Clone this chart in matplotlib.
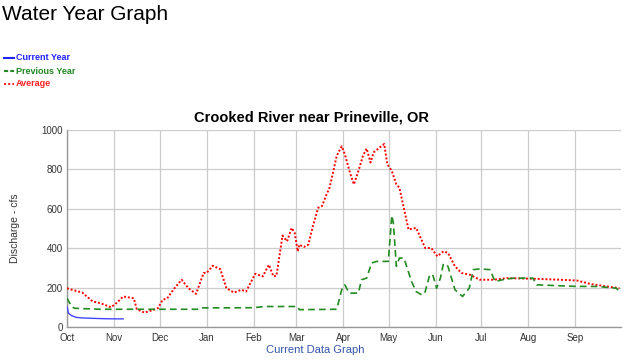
import matplotlib
matplotlib.use("Agg")
import matplotlib.pyplot as plt

plt.rcParams['font.family'] = ['Liberation Sans', 'DejaVu Sans']

# Day of water year (0 = Oct 1)
month_labels = ['Oct', 'Nov', 'Dec', 'Jan', 'Feb', 'Mar', 'Apr', 'May', 'Jun', 'Jul', 'Aug', 'Sep']
month_starts = [0, 31, 61, 92, 123, 151, 182, 212, 243, 273, 304, 335]

cur_days = [0, 1, 3, 6, 10, 17, 25, 37]
cur_vals = [105, 70, 58, 49, 46, 44, 42, 41]

prev_days = [0, 3, 5, 22, 44, 86, 87, 123, 130, 152, 153, 177.7, 181, 183, 186, 192, 194, 197.4,
             200.7, 204, 211.7, 214, 215, 217, 219, 222, 227, 230, 233.7, 235.7, 239, 241, 243.5,
             246, 248, 251, 255.6, 260.6, 265, 267.7, 272, 278.7, 282, 287, 294, 307, 309.4,
             336, 349, 362, 364.3]
prev_vals = [146, 104, 95, 90, 90, 90, 97, 98, 104, 104, 88, 90, 189, 214, 172, 172, 240, 248,
             325, 333, 333, 566, 529, 308, 350, 350, 231, 180, 163, 172, 265, 265, 197,
             248, 321, 308, 189, 155, 197, 291, 295, 291, 231, 240, 248, 248, 214,
             206, 206, 197, 175]

avg_days = [0, 1, 10, 17, 22, 29, 33, 37, 44, 46, 51, 57, 60, 63, 66, 70, 75.5, 80, 85, 90, 92,
            96, 101, 105, 110, 115, 118, 124, 129, 133, 136, 138, 142, 145, 148, 150, 152, 153,
            156, 159, 162, 165.5, 168, 171, 173, 175.5, 177.7, 181, 183, 186.4, 189, 192, 195,
            197.4, 200, 202, 206, 209, 211, 214, 217, 219, 225, 230, 236, 240, 244, 248, 251,
            255.6, 260, 265.5, 272, 281, 290, 307, 325, 336, 344.5, 355.5, 364]
avg_vals = [197, 194, 175, 129, 121, 100, 124, 155, 146, 90, 73, 87, 96, 138, 145, 189, 240, 197,
            168, 274, 274, 311, 294, 197, 175, 189, 180, 270, 257, 316, 257, 260, 464, 435, 503,
            478, 384, 418, 406, 418, 512, 605, 614, 673, 707, 792, 869, 917, 878, 784, 724, 792,
            869, 906, 835, 886, 911, 929, 827, 792, 724, 707, 495, 503, 401, 401, 359, 384, 376,
            308, 274, 265, 240, 240, 248, 245, 240, 236, 219, 206, 197]

fig = plt.figure(figsize=(6.24, 3.61), dpi=100)
ax = fig.add_axes([67 / 624, 1 - 327 / 361, 554 / 624, 197 / 361])

ax.plot(avg_days, avg_vals, color='#ff0000', linestyle=(0, (1, 1)), linewidth=1.4, zorder=3)
ax.plot(prev_days, prev_vals, color='#228B22', linestyle=(0, (4, 2.5)), linewidth=1.2, zorder=4)
ax.plot(cur_days, cur_vals, color='#4444ff', linestyle='-', linewidth=1.0, zorder=5)

ax.set_xlim(0, 365)
ax.set_ylim(0, 1000)
ax.set_xticks(month_starts)
ax.set_xticklabels(month_labels)
ax.set_yticks([0, 200, 400, 600, 800, 1000])
ax.tick_params(axis='both', length=0, labelsize=7, colors='#333333')
ax.tick_params(axis='y', pad=3)
ax.tick_params(axis='x', pad=4)
ax.grid(True, color='#cccccc', linewidth=0.9)
ax.set_axisbelow(True)
for s in ['top', 'right']:
    ax.spines[s].set_visible(False)
for s in ['left', 'bottom']:
    ax.spines[s].set_color('#999999')
    ax.spines[s].set_linewidth(1.0)

fig.text(311 / 624, 1 - 118 / 361, 'Crooked River near Prineville, OR', fontsize=10.5,
         fontweight='bold', ha='center', va='center')
ax.set_ylabel('Discharge - cfs', fontsize=7.5, color='#333333')
ax.yaxis.set_label_coords(-47 / 554, 0.5)
ax.set_xlabel('Current Data Graph', fontsize=8, color='#3355aa')
ax.xaxis.set_label_coords((315 - 67) / 554, -(350 - 327) / 197)
ax.xaxis.label.set_va('center')

fig.text(2 / 624, 1 - 14 / 361, 'Water Year Graph', fontsize=15, va='center', ha='left')

legend_items = [('Current Year', '#2222ff', '-', 58),
                ('Previous Year', '#228822', (0, (2, 1)), 71),
                ('Average', '#ff2222', (0, (1, 1)), 84)]
for label, col, ls, ypix in legend_items:
    yf = 1 - ypix / 361
    fig.add_artist(plt.Line2D([4 / 624, 14 / 624], [yf, yf], color=col, linestyle=ls,
                              linewidth=1.5, transform=fig.transFigure))
    fig.text(16 / 624, yf, label, fontsize=6.5, fontweight='bold', color=col, va='center', ha='left')

fig.savefig('out.png', dpi=100)
